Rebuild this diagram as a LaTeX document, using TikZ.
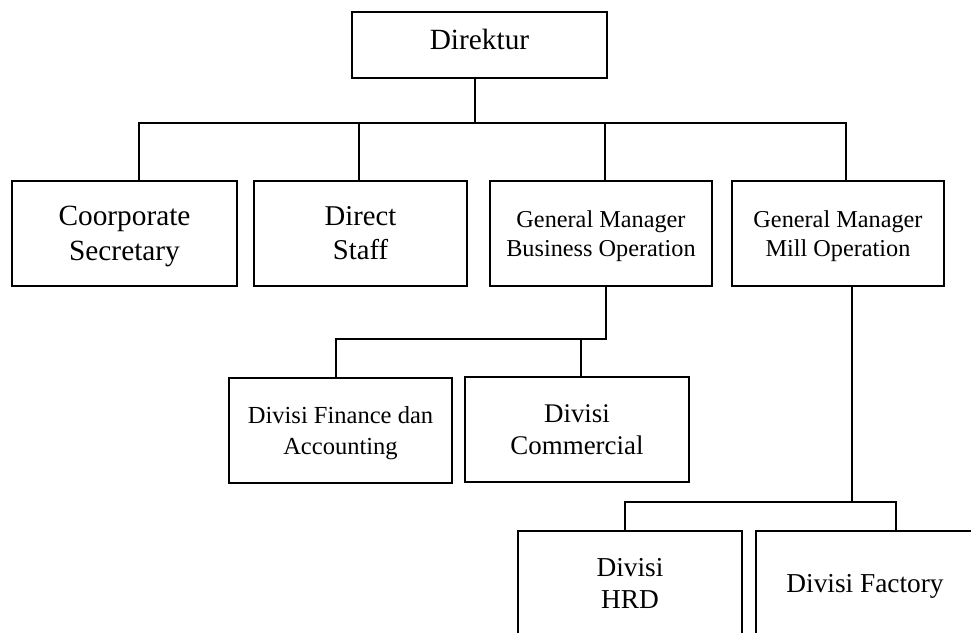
\documentclass[tikz,border=0pt]{standalone}
\usepackage{fontspec}
\setmainfont{Liberation Serif}
\begin{document}
\begin{tikzpicture}[x=0.75pt,y=-0.75pt,
    unit/.style={draw, line width=1.2pt, align=center, inner sep=0pt, text depth=0pt, minimum height=78.75pt},
    link/.style={line width=1.5pt},
    bigfont/.style={font=\fontsize{22}{26.25}\selectfont},
    midfont/.style={font=\fontsize{20.5}{23.5}\selectfont},
    smallfont/.style={font=\fontsize{18.2}{21.75}\selectfont}]
  \useasboundingbox (0,0) rectangle (971,632);
  \clip (0,0) rectangle (971,632);
  % top
  \node[unit, bigfont, text depth=8pt, minimum width=191.25pt, minimum height=49.5pt] (dir) at (479.5,45) {Direktur};
  % second row
  \node[unit, bigfont, minimum width=168.75pt] (cs) at (124.5,233.5) {Coorporate\\Secretary};
  \node[unit, font=\fontsize{21.5}{25.5}\selectfont, minimum width=159.75pt] (ds) at (360.5,233.5) {Direct\\Staff};
  \node[unit, smallfont, minimum width=166.5pt] (gmbo) at (601,233.5) {General Manager\\Business Operation};
  \node[unit, smallfont, minimum width=159pt] (gmmo) at (838,233.5) {General Manager\\Mill Operation};
  % business operation
  \node[unit, font=\fontsize{18.4}{23.25}\selectfont, minimum width=167.25pt] (fin) at (340.5,430.5) {Divisi Finance dan\\Accounting};
  \node[unit, font=\fontsize{20.2}{24}\selectfont, minimum width=168pt] (com) at (577,429.5) {Divisi\\Commercial};
  % mill operation
  \node[unit, midfont, minimum width=168pt] (hrd) at (630,583.5) {Divisi\\HRD};
  \node[unit, midfont, minimum width=163.5pt] (fac) at (865,583.5) {Divisi Factory};
  % lines
  \coordinate (bus) at (475,123);
  \coordinate (bus2) at (606,339);
  \coordinate (bus3) at (852,502);
  \draw[link] (dir.south -| bus) -- (bus);
  \draw[link] ([xshift=10.9pt]cs.north) |- (bus) -| ([xshift=6pt]gmmo.north);
  \draw[link] ([xshift=-1.1pt]ds.north) -- ([xshift=-1.1pt]ds.north |- bus);
  \draw[link] ([xshift=3pt]gmbo.north) -- ([xshift=3pt]gmbo.north |- bus);
  \draw[link] (gmbo.south -| bus2) -- (bus2) -| ([xshift=-3.4pt]fin.north);
  \draw[link] ([xshift=3pt]com.north) -- ([xshift=3pt]com.north |- bus2);
  \draw[link] (gmmo.south -| bus3) -- (bus3);
  \draw[link] ([xshift=-3.75pt]hrd.north) |- (bus3) -| ([xshift=23.25pt]fac.north);
\end{tikzpicture}
\end{document}
